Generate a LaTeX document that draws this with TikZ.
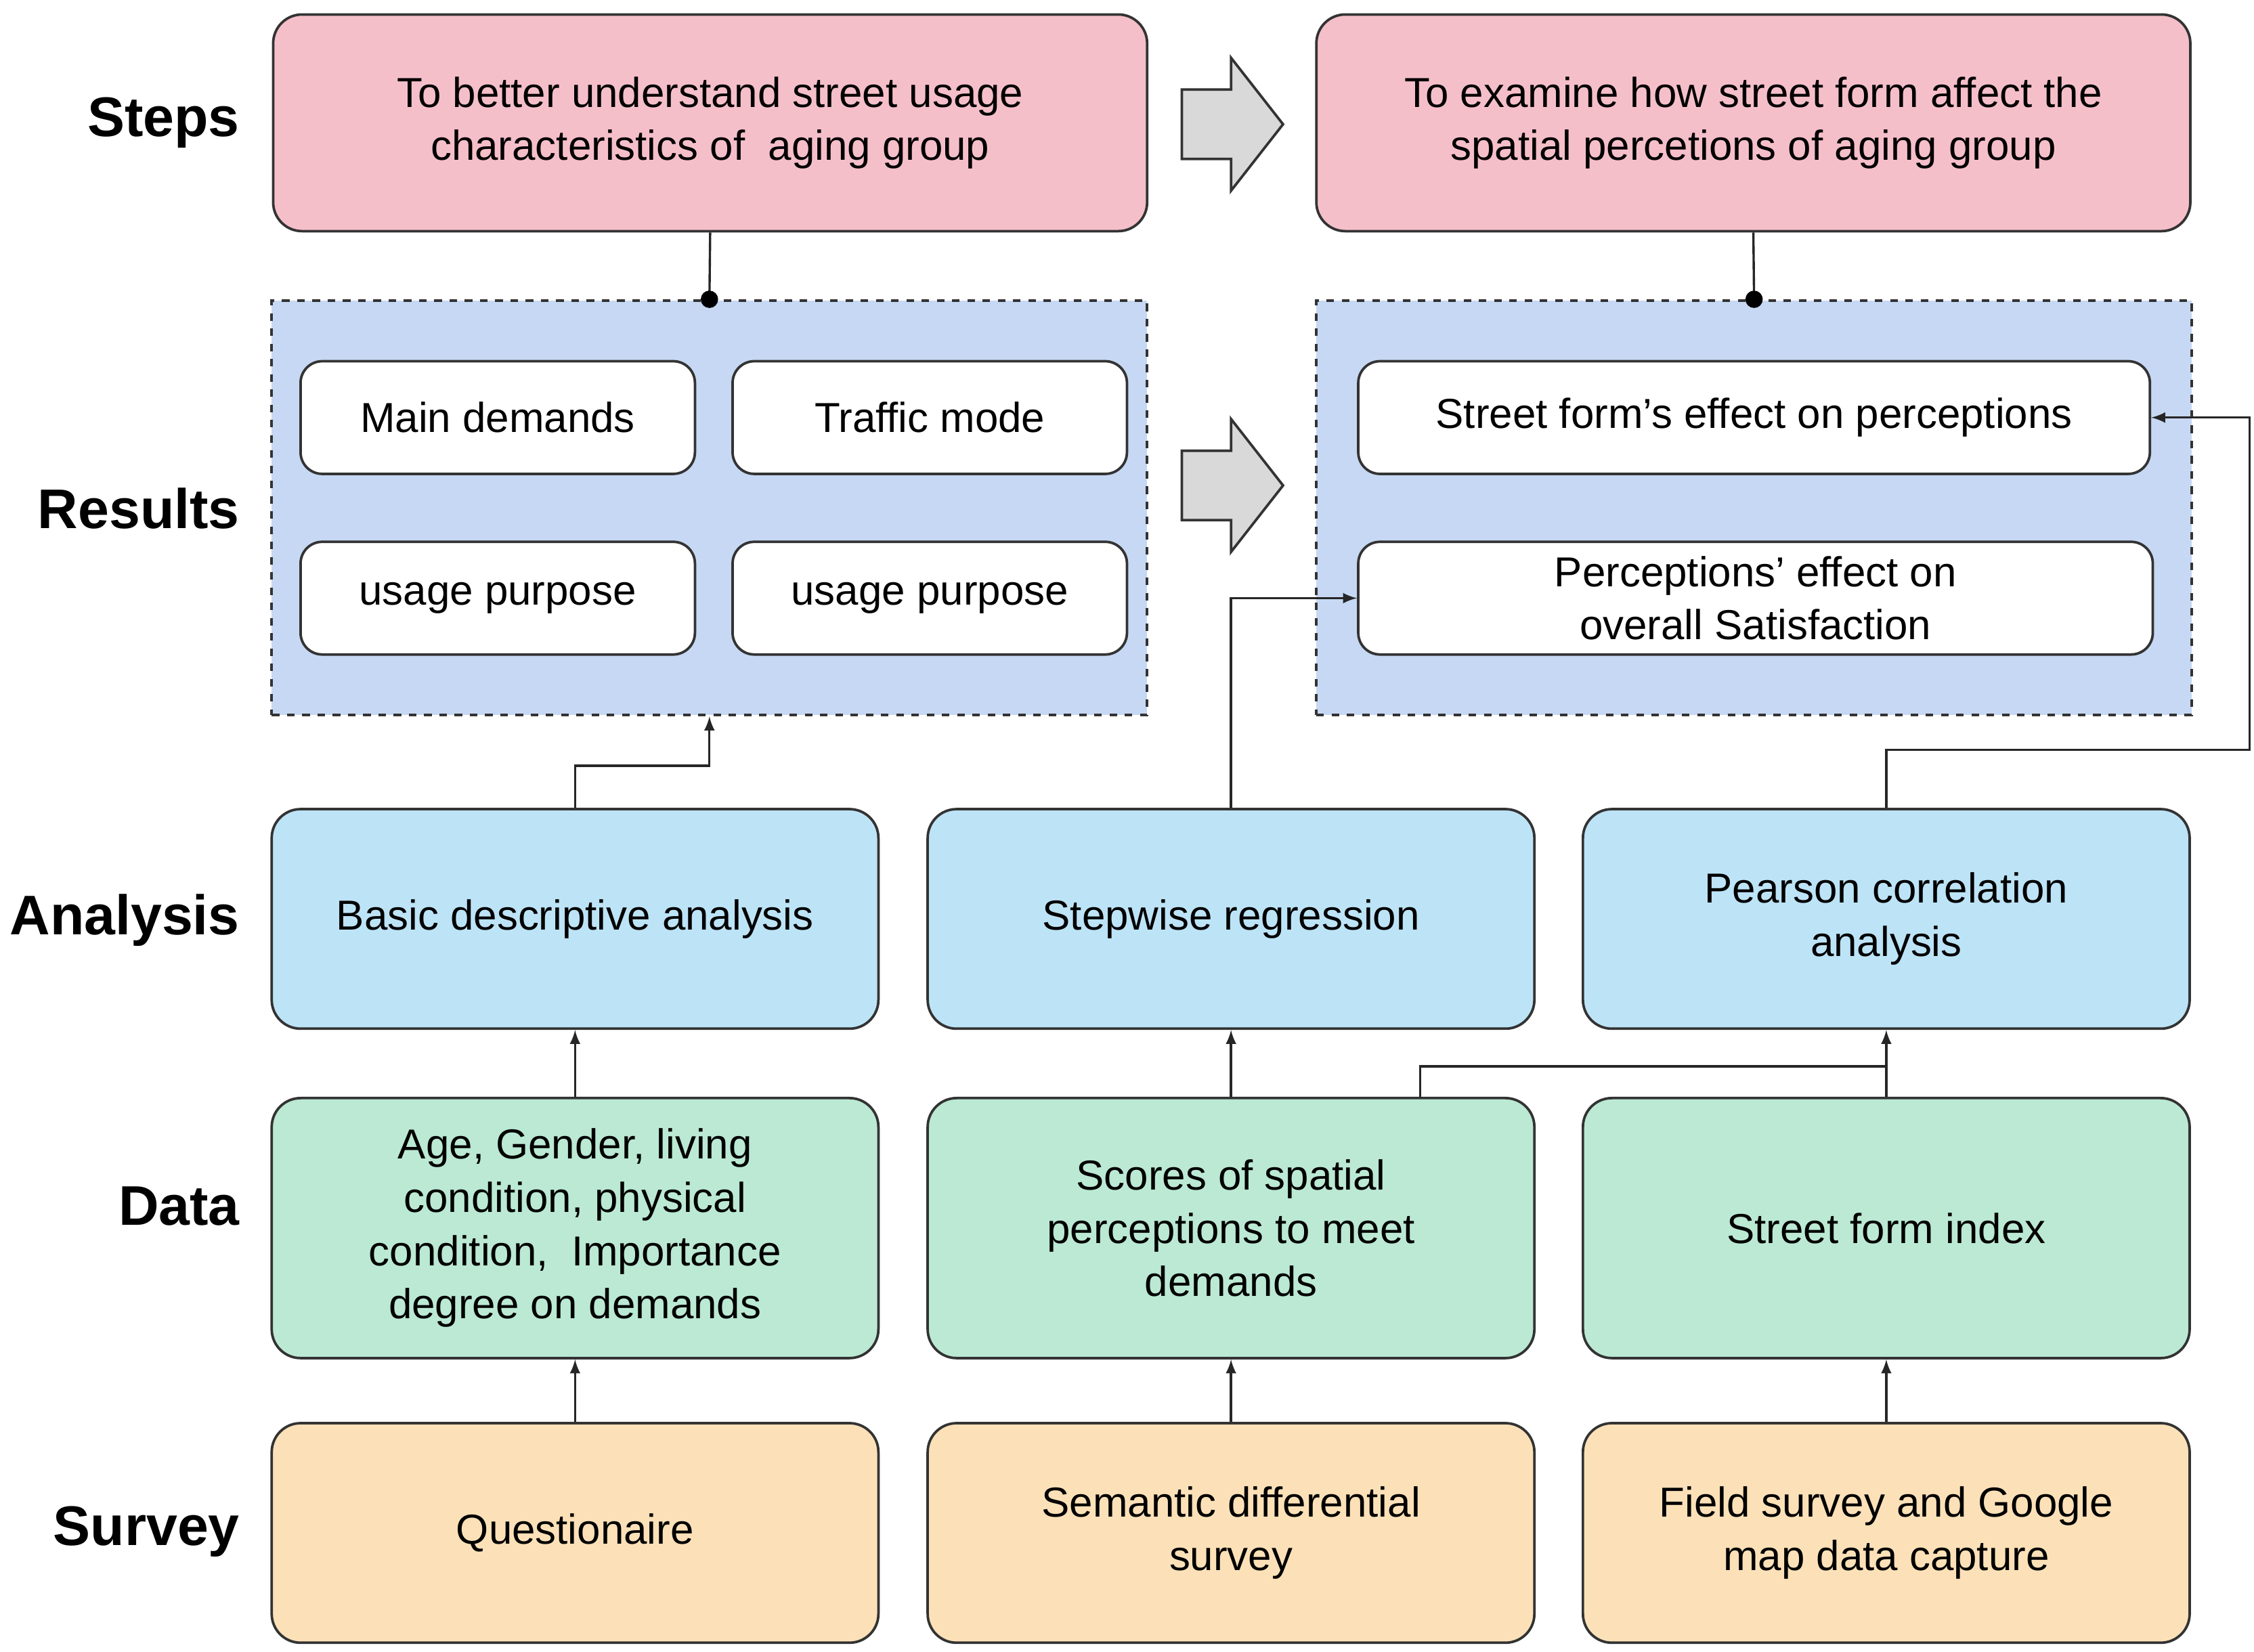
\documentclass[tikz,border=0pt]{standalone}
\usepackage{fontspec}
\setmainfont{Liberation Sans}
\definecolor{cstep}{HTML}{F5BFCA}
\definecolor{cres}{HTML}{C6D8F3}
\definecolor{cana}{HTML}{BDE3F6}
\definecolor{cdat}{HTML}{BBE9D4}
\definecolor{csur}{HTML}{FCE1B8}
\begin{document}
\begin{tikzpicture}[x=0.02cm,y=-0.02cm,
  base/.style={draw=black!80,line width=1pt,rounded corners=0.4cm,align=center,font=\fontsize{16.5}{21}\selectfont,inner sep=2pt},
  stepbox/.style={base,fill=cstep,minimum width=12.1cm,minimum height=3cm},
  res/.style={draw=black!80,dashed,line width=1pt,fill=cres,minimum width=12.12cm,minimum height=5.74cm},
  inner/.style={base,fill=white,rounded corners=0.3cm,minimum height=1.56cm},
  ana/.style={base,fill=cana,minimum width=8.4cm,minimum height=3.04cm},
  dat/.style={base,fill=cdat,minimum width=8.4cm,minimum height=3.6cm},
  sur/.style={base,fill=csur,minimum width=8.4cm,minimum height=3.04cm},
  lab/.style={anchor=east,font=\fontsize{22}{26}\selectfont\bfseries},
  conn/.style={line width=0.9pt,black!85},
  arr/.style={conn,-latex},
  blk/.style={draw=black!80,line width=1pt,fill=black!15}]
\useasboundingbox (0,0) rectangle (1560,1143);
\node[lab] (l1) at (172,85) {Steps};
\node[lab] (l2) at (172,352) {Results};
\node[lab] (l3) at (172,637) {Analysis};
\node[lab] (l4) at (172,835) {Data};
\node[lab] (l5) at (172,1060) {Survey};
\node[stepbox] (s1) at (491.5,85) {To better understand street usage\\characteristics of\ \ aging group};
\node[stepbox] (s2) at (1213.5,85) {To examine how street form affect the\\spatial percetions of aging group};
\node[res] (rL) at (491,351.5) {};
\node[res] (rR) at (1214,351.5) {};
\node[inner,minimum width=5.46cm] (md) at (344.5,289) {Main demands};
\node[inner,minimum width=5.46cm] (tm) at (643.5,289) {Traffic mode};
\node[inner,minimum width=5.46cm] (u1) at (344.5,414) {usage purpose};
\node[inner,minimum width=5.46cm] (u2) at (643.5,414) {usage purpose};
\node[inner,minimum width=10.96cm] (sf) at (1214,289) {Street form’s effect on perceptions};
\node[inner,minimum width=11cm] (pe) at (1215,414) {Perceptions’ effect on\\overall Satisfaction};
\node[ana] (a1) at (398,636) {Basic descriptive analysis};
\node[ana] (a2) at (852,636) {Stepwise regression};
\node[ana] (a3) at (1305.5,636) {Pearson correlation\\analysis};
\node[dat] (d1) at (398,850) {Age, Gender, living\\condition, physical\\condition,\ \ Importance\\degree on demands};
\node[dat] (d2) at (852,850) {Scores of spatial\\perceptions to meet\\demands};
\node[dat] (d3) at (1305.5,850) {Street form index};
\node[sur] (v1) at (398,1061) {Questionaire};
\node[sur] (v2) at (852,1061) {Semantic differential\\survey};
\node[sur] (v3) at (1305.5,1061) {Field survey and Google\\map data capture};
\draw[blk] (818,62) -- (852,62) -- (852,40) -- (888,86) -- (852,132) -- (852,110) -- (818,110) -- cycle;
\draw[blk] (818,312) -- (852,312) -- (852,290) -- (888,336) -- (852,382) -- (852,360) -- (818,360) -- cycle;
\draw[conn] (s1.south) -- (rL.north); \fill (rL.north) circle (0.12cm);
\draw[conn] (s2.south) -- (rR.north); \fill (rR.north) circle (0.12cm);
\coordinate (c1) at (398,530);
\draw[arr] (a1.north) -- (c1) -| (rL.south);
\draw[arr] (a2.north) |- (pe.west);
\coordinate (c2) at (1557,519);
\draw[arr] (a3.north) |- (c2) |- (sf.east);
\draw[arr] (d1.north) -- (a1.south);
\draw[arr] (d2.north) -- (a2.south);
\draw[arr] (d3.north) -- (a3.south);
\coordinate (c3) at (983,738);
\draw[conn] (c3|-d2.north) -- (c3) -- (c3-|a3.south);
\draw[arr] (v1.north) -- (d1.south);
\draw[arr] (v2.north) -- (d2.south);
\draw[arr] (v3.north) -- (d3.south);
\end{tikzpicture}
\end{document}
